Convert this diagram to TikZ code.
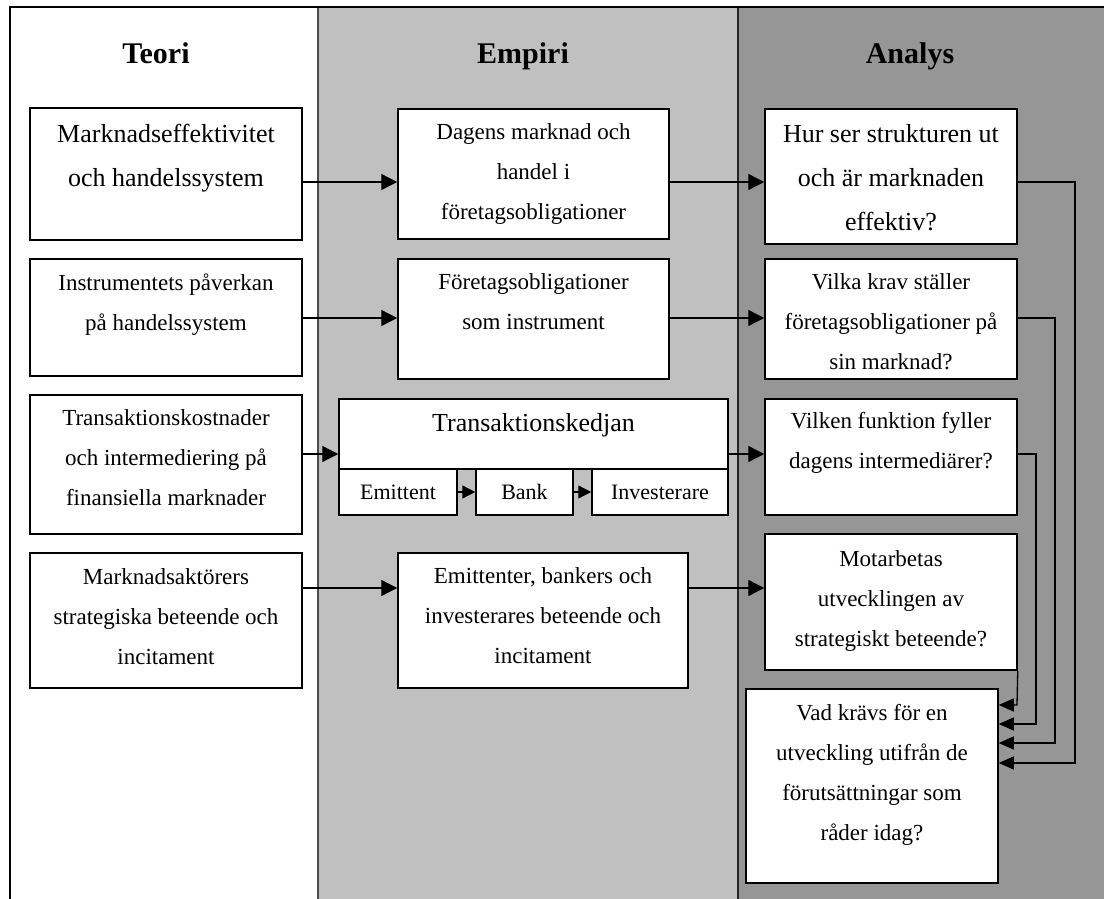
\documentclass[tikz,border=0pt]{standalone}
\usepackage{fontspec}
\setmainfont{Liberation Serif}
\usetikzlibrary{arrows.meta,calc}
\definecolor{empgray}{RGB}{192,192,192}
\definecolor{anagray}{RGB}{150,150,150}
\newcommand{\fhd}{\fontsize{30}{36}\selectfont\bfseries}
\newcommand{\fa}{\fontsize{26}{44}\selectfont}
\newcommand{\fb}{\fontsize{23}{40}\selectfont}
\newcommand{\fc}{\fontsize{22}{26}\selectfont}
\begin{document}
\begin{tikzpicture}[x=1pt,y=-1pt,
  bx/.style={draw=black,fill=white,line width=1.5pt,inner sep=0pt,rectangle},
  lbl/.style={align=center,inner sep=0pt,anchor=north},
  hdr/.style={font=\fhd,inner sep=0pt,anchor=base},
  arr/.style={line width=1.3pt,-{Triangle[length=16pt,width=16pt]}},
  sarr/.style={line width=1.3pt,-{Triangle[length=13pt,width=13pt]}},
  con/.style={line width=1.3pt,-{Triangle[length=15pt,width=13pt]}}]
% canvas
\fill[white] (0,0) rectangle (1104,899);
\useasboundingbox (0,0) rectangle (1104,899);
\fill[empgray] (318,7) rectangle (738,899);
\fill[anagray] (738,7) rectangle (1104,899);
\draw[black!70,line width=2pt] (318,7) -- (318,899);
\draw[black!85,line width=2.2pt] (738,7) -- (738,899);
\draw[black,line width=2.6pt] (10,899) -- (10,7) -- (1104,7);
% headers
\node[hdr] (hteori) at (156,63.3) {Teori};
\node[hdr] (hempiri) at (523,63.3) {Empiri};
\node[hdr] (hanalys) at (910,63.3) {Analys};
% row coordinates
\coordinate (r1) at (0,182);
\coordinate (r2) at (0,318);
\coordinate (r3) at (0,454);
\coordinate (r4) at (0,588);
% Teori boxes
\node[bx,minimum width=272pt,minimum height=132pt] (t1) at (166,174) {};
\node[bx,minimum width=272pt,minimum height=117pt] (t2) at (166,317.5) {};
\node[bx,minimum width=272pt,minimum height=139pt] (t3) at (166,464.5) {};
\node[bx,minimum width=272pt,minimum height=135pt] (t4) at (166,620.5) {};
\node[lbl,font=\fa] (t1l) at (166,111.9) {\strut Marknadseffektivitet\\och handelssystem};
\node[lbl,font=\fb] (t2l) at (166,262) {\strut Instrumentets påverkan\\på handelssystem};
\node[lbl,font=\fb] (t3l) at (166,397) {\strut Transaktionskostnader\\och intermediering på\\finansiella marknader};
\node[lbl,font=\fb] (t4l) at (166,556) {\strut Marknadsaktörers\\strategiska beteende och\\incitament};
% Empiri boxes
\node[bx,minimum width=271pt,minimum height=130pt] (e1) at (533.5,174) {};
\node[bx,minimum width=271pt,minimum height=120pt] (e2) at (533.5,319) {};
\node[bx,minimum width=389pt,minimum height=70pt] (e3) at (533.5,434) {};
\node[bx,minimum width=118pt,minimum height=46pt,font=\fc] (em) at (398,492) {Emittent};
\node[bx,minimum width=97pt,minimum height=46pt,font=\fc] (bk) at (524.5,492) {Bank};
\node[bx,minimum width=136pt,minimum height=46pt,font=\fc] (inv) at (660,492) {Investerare};
\node[bx,minimum width=290pt,minimum height=135pt] (e4) at (543,620.5) {};
\node[lbl,font=\fb] (e1l) at (533.5,111.3) {\strut Dagens marknad och\\handel i\\företagsobligationer};
\node[lbl,font=\fb] (e2l) at (533.5,261) {\strut Företagsobligationer\\som instrument};
\node[lbl,font=\fa] (e3l) at (533.5,400.9) {\strut Transaktionskedjan};
\node[lbl,font=\fb] (e4l) at (543,555) {\strut Emittenter, bankers och\\investerares beteende och\\incitament};
% Analys boxes
\node[bx,minimum width=252pt,minimum height=135pt] (a1) at (891,176.5) {};
\node[bx,minimum width=252pt,minimum height=120pt] (a2) at (891,319) {};
\node[bx,minimum width=252pt,minimum height=116pt] (a3) at (891,457) {};
\node[bx,minimum width=252pt,minimum height=136pt] (a4) at (891,602) {};
\node[bx,minimum width=252pt,minimum height=194pt] (a5) at (872,786) {};
\node[lbl,font=\fa] (a1l) at (891,111.9) {\strut Hur ser strukturen ut\\och är marknaden\\effektiv?};
\node[lbl,font=\fb] (a2l) at (891,261.3) {\strut Vilka krav ställer\\företagsobligationer på\\sin marknad?};
\node[lbl,font=\fb] (a3l) at (891,400.3) {\strut Vilken funktion fyller\\dagens intermediärer?};
\node[lbl,font=\fb] (a4l) at (891,538) {\strut Motarbetas\\utvecklingen av\\strategiskt beteende?};
\node[lbl,font=\fb] (a5l) at (872,692) {\strut Vad krävs för en\\utveckling utifrån de\\förutsättningar som\\råder idag?};
% horizontal arrows
\draw[arr] (t1.east |- r1) -- (e1.west |- r1);
\draw[arr] (e1.east |- r1) -- (a1.west |- r1);
\draw[arr] (t2.east |- r2) -- (e2.west |- r2);
\draw[arr] (e2.east |- r2) -- (a2.west |- r2);
\draw[arr] (t3.east |- r3) -- (e3.west |- r3);
\draw[arr] (e3.east |- r3) -- (a3.west |- r3);
\draw[arr] (t4.east |- r4) -- (e4.west |- r4);
\draw[arr] (e4.east |- r4) -- (a4.west |- r4);
% chain arrows
\draw[sarr] (em.east) -- (bk.west);
\draw[sarr] (bk.east) -- (inv.west);
% connectors into final box
\coordinate (k1) at (1075,763);
\coordinate (k2) at (1055,743);
\coordinate (k3) at (1036,724);
\coordinate (k4) at (1017,705);
\draw[con] (a1.east |- r1) -| (k1) -- (a5.east |- k1);
\draw[con] (a2.east |- r2) -| (k2) -- (a5.east |- k2);
\draw[con] (a3.east |- r3) -| (k3) -- (a5.east |- k3);
\draw[con] (a4.south east) -- (k4) -- (a5.east |- k4);
\end{tikzpicture}
\end{document}
